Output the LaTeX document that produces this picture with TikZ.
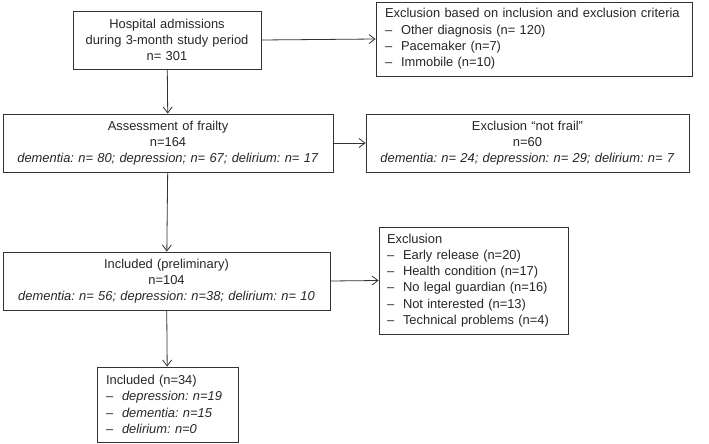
\documentclass[tikz,border=0pt]{standalone}
\usepackage{fontspec}
\setmainfont{Liberation Sans}
\usetikzlibrary{arrows.meta}
\frenchspacing

\newcommand{\dashitem}[1]{\makebox[16pt][l]{--}#1}

\begin{document}
\begin{tikzpicture}[x=1pt, y=-1pt, font=\fontsize{12.9}{16.3}\selectfont,
		box/.style={draw=black!80, line width=0.8pt, inner xsep=4pt, inner ysep=0pt, align=center, text=black!85},
		lbox/.style={box, align=left},
		arr/.style={draw=black!80, line width=0.8pt, -{Straight Barb[length=6pt,width=9pt]}}]
		\useasboundingbox (0,0) rectangle (709,444);
		% main column
		\node[box, text width=180pt, minimum height=58pt] (adm) at (167,40) {Hospital admissions\\during 3-month study period\\n= 301};
		\node[box, text width=322pt, minimum height=58pt] (frail) at (168,143) {Assessment of frailty\\n=164\\\textit{dementia: n= 80; depression; n= 67; delirium: n= 17}};
		\node[box, text width=319pt, minimum height=58pt] (prelim) at (166.5,281) {Included (preliminary)\\n=104\\\textit{dementia: n= 56; depression: n=38; delirium: n= 10}};
		\node[lbox, inner xsep=9pt, text width=123pt, minimum height=75pt] (incl) at (167.5,404.5) {Included (n=34)\\\dashitem{\textit{depression: n=19}}\\\dashitem{\textit{dementia: n=15}}\\\dashitem{\textit{delirium: n=0}}};
		% exclusions
		\node[lbox, inner xsep=9pt, text width=298pt, minimum height=74pt] (excrit) at (534,39) {Exclusion based on inclusion and exclusion criteria\\\dashitem{Other diagnosis (n= 120)}\\\dashitem{Pacemaker (n=7)}\\\dashitem{Immobile (n=10)}};
		\node[box, text width=315pt, minimum height=58pt] (exfrail) at (527.5,143) {Exclusion “not frail”\\n=60\\\textit{dementia: n= 24; depression: n= 29; delirium: n= 7}};
		\node[lbox, inner xsep=8pt, text width=173pt, minimum height=107pt] (exother) at (473.5,280.5) {Exclusion\\\dashitem{Early release (n=20)}\\\dashitem{Health condition (n=17)}\\\dashitem{No legal guardian (n=16)}\\\dashitem{Not interested (n=13)}\\\dashitem{Technical problems (n=4)}};
		% arrows
		\draw[arr] (adm) -- (frail);
		\draw[arr] (frail) -- (prelim);
		\draw[arr] (prelim) -- (incl);
		\draw[arr] (adm.east) -- (excrit.west);
		\draw[arr] (frail.east) -- (exfrail.west);
		\draw[arr] (prelim.east) -- (exother.west);
	\end{tikzpicture}
\end{document}
